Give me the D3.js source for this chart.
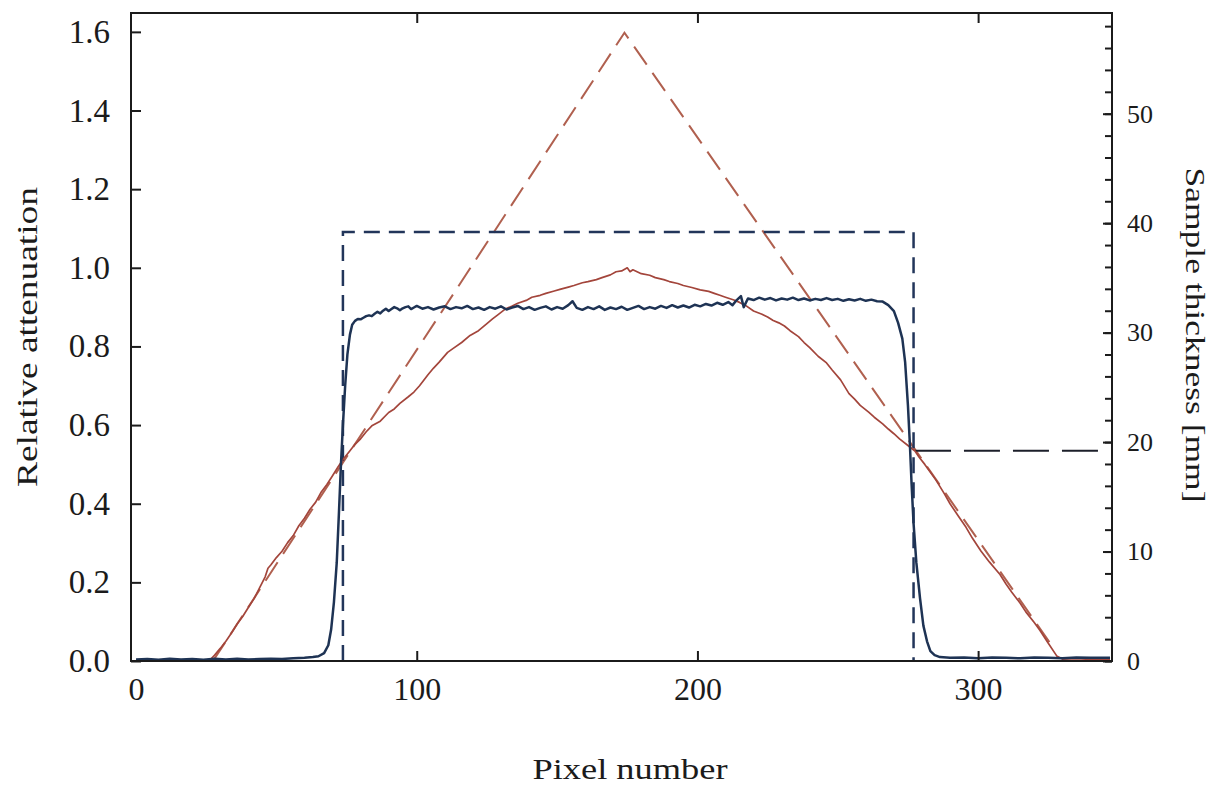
<!DOCTYPE html>
<html>
<head>
<meta charset="utf-8">
<script src="https://cdn.jsdelivr.net/npm/d3@7"></script>
<style>
body { margin: 0; background: #fff; }
text { font-family: "Liberation Serif", "Times New Roman", serif; fill: #1b1b1b; }
.axis path, .axis line { stroke: #1b1b1b; stroke-width: 2; }
</style>
</head>
<body>
<svg id="chart" width="1217" height="786"></svg>
<script>
// measured attenuation, blue (left axis)
var blueAtten = [
	[0,0.004],[4,0.005],[8,0.003],[12,0.006],[16,0.004],[20,0.005],[24,0.003],[28,0.006],
	[32,0.004],[36,0.006],[40,0.004],[44,0.005],[48,0.006],[52,0.005],[56,0.007],[60,0.008],
	[63,0.01],[65,0.012],[67,0.02],[68.5,0.04],[69.5,0.08],[70.5,0.15],[71.5,0.25],[72.3,0.38],
	[73,0.5],[73.7,0.6],[74.5,0.7],[75.3,0.78],[76.2,0.83],[77,0.855],[78,0.865],[79,0.87],
	[80,0.869],[81,0.873],[82,0.877],[83,0.879],[84,0.877],[85,0.883],[86,0.888],[87,0.884],
	[88,0.891],[89,0.896],[90,0.89],[91,0.895],[92,0.9],[93,0.897],[94,0.892],[95,0.897],
	[96,0.9],[97,0.902],[98,0.895],[99,0.899],[100,0.903],[102,0.896],[104,0.9],[106,0.894],
	[108,0.899],[110,0.902],[112,0.895],[114,0.9],[116,0.897],[118,0.903],[120,0.895],[122,0.899],
	[124,0.893],[126,0.9],[128,0.896],[130,0.902],[132,0.894],[134,0.899],[136,0.903],[138,0.895],
	[140,0.9],[142,0.893],[144,0.898],[146,0.902],[148,0.894],[150,0.9],[152,0.896],[154,0.905],
	[155.5,0.915],[157,0.898],[159,0.893],[161,0.9],[163,0.895],[165,0.902],[167,0.893],[169,0.899],
	[171,0.895],[173,0.901],[175,0.893],[177,0.898],[179,0.903],[181,0.895],[183,0.9],[185,0.896],
	[187,0.903],[189,0.898],[191,0.905],[193,0.899],[195,0.904],[197,0.899],[199,0.906],[201,0.902],
	[203,0.908],[205,0.904],[207,0.911],[209,0.906],[211,0.913],[212.5,0.905],[214,0.918],[215.5,0.928],
	[216.5,0.9],[218,0.922],[220,0.918],[222,0.924],[224,0.919],[226,0.923],[228,0.917],[230,0.922],
	[232,0.919],[234,0.924],[236,0.918],[238,0.922],[240,0.917],[242,0.921],[244,0.918],[246,0.923],
	[248,0.918],[250,0.921],[252,0.916],[254,0.92],[256,0.917],[258,0.921],[260,0.916],[262,0.919],
	[264,0.915],[266,0.914],[268,0.905],[270,0.89],[271.5,0.86],[273,0.82],[274,0.76],[275,0.65],
	[275.7,0.55],[276.3,0.45],[277,0.35],[278,0.25],[279.3,0.16],[280.5,0.09],[281.8,0.05],[283,0.025],
	[284.5,0.015],[286.4,0.01],[290,0.008],[295,0.009],[300,0.007],[305,0.009],[310,0.008],[315,0.007],
	[320,0.009],[325,0.008],[330,0.007],[335,0.009],[340,0.008],[347,0.008]
];

// measured attenuation, red (left axis)
var redAtten = [
	[26,0],[28,0.015],[30,0.032],[32,0.05],[34,0.071],[36,0.094],[38,0.113],[40,0.136],
	[42,0.158],[44,0.186],[46,0.214],[47,0.236],[48,0.244],[50,0.263],[52,0.279],[54,0.301],
	[56,0.319],[58,0.344],[60,0.363],[62,0.386],[64,0.404],[66,0.43],[68,0.449],[70,0.471],
	[72,0.494],[74,0.515],[76,0.533],[78,0.551],[80,0.565],[82,0.583],[84,0.598],[87,0.61],
	[90,0.632],[92,0.641],[94,0.655],[97,0.672],[99,0.684],[101,0.7],[104,0.728],[106,0.745],
	[108,0.76],[111,0.785],[113,0.795],[116,0.81],[119,0.828],[122,0.84],[125,0.858],[127,0.87],
	[129,0.881],[131.5,0.895],[134,0.903],[136,0.91],[139,0.917],[141,0.925],[144,0.93],[146,0.935],
	[149,0.941],[151,0.945],[154,0.951],[156,0.955],[159,0.962],[161,0.965],[164,0.97],[166,0.975],
	[169,0.982],[171,0.99],[173,0.992],[175,1.0],[176,0.99],[177,0.995],[180,0.985],[183,0.981],
	[185,0.975],[188,0.97],[190,0.965],[193,0.96],[195,0.955],[198,0.95],[201,0.944],[204,0.94],
	[206,0.935],[208,0.93],[210,0.925],[213,0.918],[215,0.912],[217,0.905],[220,0.89],[223,0.882],
	[225,0.875],[227,0.866],[229,0.86],[231,0.852],[233,0.84],[236,0.825],[238,0.81],[240,0.797],
	[243,0.775],[246,0.758],[248,0.74],[251,0.715],[254,0.68],[256,0.666],[258,0.65],[261,0.633],
	[263,0.62],[266,0.603],[268,0.59],[270,0.578],[272,0.565],[275,0.548],[277.5,0.534],[279,0.518],
	[281,0.5],[283,0.48],[285,0.46],[288,0.425],[290,0.4],[293,0.368],[295.7,0.34],[298,0.312],
	[301,0.28],[304,0.252],[307.8,0.22],[310,0.195],[312,0.175],[315,0.147],[317,0.125],[320,0.098],
	[322,0.078],[325,0.045],[328,0.013],[330,0.005],[335,0.006],[340,0.004],[347,0.005]
];

// sample thickness outlines in mm (right axis)
var rectThickness = [[73.7,0],[73.7,39.2],[277,39.2],[277,0]];
var wedgeThickness = [[27.4,0],[174,57.4],[325.6,1.65]];
var levelLine = [[277.5,19.2],[343,19.2]];

var xTicks = [0, 100, 200, 300];
var leftTicks = [0, 0.2, 0.4, 0.6, 0.8, 1.0, 1.2, 1.4, 1.6];
var rightMajor = [0, 10, 20, 30, 40, 50];
var rightMinor = d3.range(0, 59, 2);

function drawChart() {
	var svg = d3.select("#chart");
	var pLeft = 131, pRight = 1112, pTop = 13, pBottom = 661;

	var x = d3.scaleLinear().domain([-1.8, 347.7]).range([pLeft, pRight]);
	var yL = d3.scaleLinear().domain([0, 1.648]).range([pBottom, pTop]);
	var yR = d3.scaleLinear().domain([0, 59.2]).range([pBottom, pTop]);

	var lineL = d3.line().x(function(d) { return x(d[0]); }).y(function(d) { return yL(d[1]); });
	var lineR = d3.line().x(function(d) { return x(d[0]); }).y(function(d) { return yR(d[1]); });

	// dashed outlines
	svg.append("path").datum(wedgeThickness).attr("d", lineR)
		.attr("fill", "none").attr("stroke", "#b0604f").attr("stroke-width", 2)
		.attr("stroke-dasharray", "22,10");
	svg.append("path").datum(rectThickness).attr("d", lineR)
		.attr("fill", "none").attr("stroke", "#22355a").attr("stroke-width", 2.5)
		.attr("stroke-dasharray", "16,9");
	svg.append("path").datum(levelLine).attr("d", lineR)
		.attr("fill", "none").attr("stroke", "#1c1f2a").attr("stroke-width", 2)
		.attr("stroke-dasharray", "36,13");

	// measured curves
	svg.append("path").datum(redAtten).attr("d", lineL)
		.attr("fill", "none").attr("stroke", "#a3453b").attr("stroke-width", 1.7)
		.attr("stroke-linejoin", "round");
	svg.append("path").datum(blueAtten).attr("d", lineL)
		.attr("fill", "none").attr("stroke", "#1e3354").attr("stroke-width", 2.5)
		.attr("stroke-linejoin", "round");

	// frame
	svg.append("rect").attr("x", pLeft).attr("y", pTop)
		.attr("width", pRight - pLeft).attr("height", pBottom - pTop)
		.attr("fill", "none").attr("stroke", "#1b1b1b").attr("stroke-width", 2);

	// axes, ticks point inward
	var gx = svg.append("g").attr("class", "axis")
		.attr("transform", "translate(0," + pBottom + ")")
		.call(d3.axisBottom(x).tickValues(xTicks).tickSize(-10).tickSizeOuter(0).tickPadding(16));
	gx.selectAll("text").style("font-size", "32px");
	gx.selectAll(".tick line").filter(function(d) { return d === 0; }).remove();

	svg.append("g").attr("class", "axis")
		.attr("transform", "translate(0," + pTop + ")")
		.call(d3.axisTop(x).tickValues([100, 200, 300]).tickSize(-10).tickSizeOuter(0).tickFormat(""));

	var gl = svg.append("g").attr("class", "axis")
		.attr("transform", "translate(" + pLeft + ",0)")
		.call(d3.axisLeft(yL).tickValues(leftTicks).tickSize(-10).tickSizeOuter(0)
			.tickPadding(21).tickFormat(d3.format(".1f")));
	gl.selectAll("text").style("font-size", "33px");

	svg.append("g").attr("class", "axis")
		.attr("transform", "translate(" + pRight + ",0)")
		.call(d3.axisRight(yR).tickValues(rightMinor).tickSize(-7).tickSizeOuter(0).tickFormat(""));
	var gr = svg.append("g").attr("class", "axis")
		.attr("transform", "translate(" + pRight + ",0)")
		.call(d3.axisRight(yR).tickValues(rightMajor).tickSize(-9).tickSizeOuter(0).tickPadding(15));
	gr.selectAll("text").style("font-size", "26px");

	svg.selectAll(".axis .domain").remove();
	svg.selectAll(".axis text").attr("fill", "#1b1b1b");

	// titles
	svg.append("text")
		.attr("x", 630).attr("y", 779)
		.attr("text-anchor", "middle")
		.attr("textLength", 195).attr("lengthAdjust", "spacingAndGlyphs")
		.style("font-size", "30px")
		.text("Pixel number");

	svg.append("text")
		.attr("transform", "translate(37,337) rotate(-90)")
		.attr("text-anchor", "middle")
		.attr("textLength", 300).attr("lengthAdjust", "spacingAndGlyphs")
		.style("font-size", "30px")
		.text("Relative attenuation");

	svg.append("text")
		.attr("transform", "translate(1186,335) rotate(90)")
		.attr("text-anchor", "middle")
		.attr("textLength", 335).attr("lengthAdjust", "spacingAndGlyphs")
		.style("font-size", "28px")
		.text("Sample thickness [mm]");
}

drawChart();
</script>
</body>
</html>
